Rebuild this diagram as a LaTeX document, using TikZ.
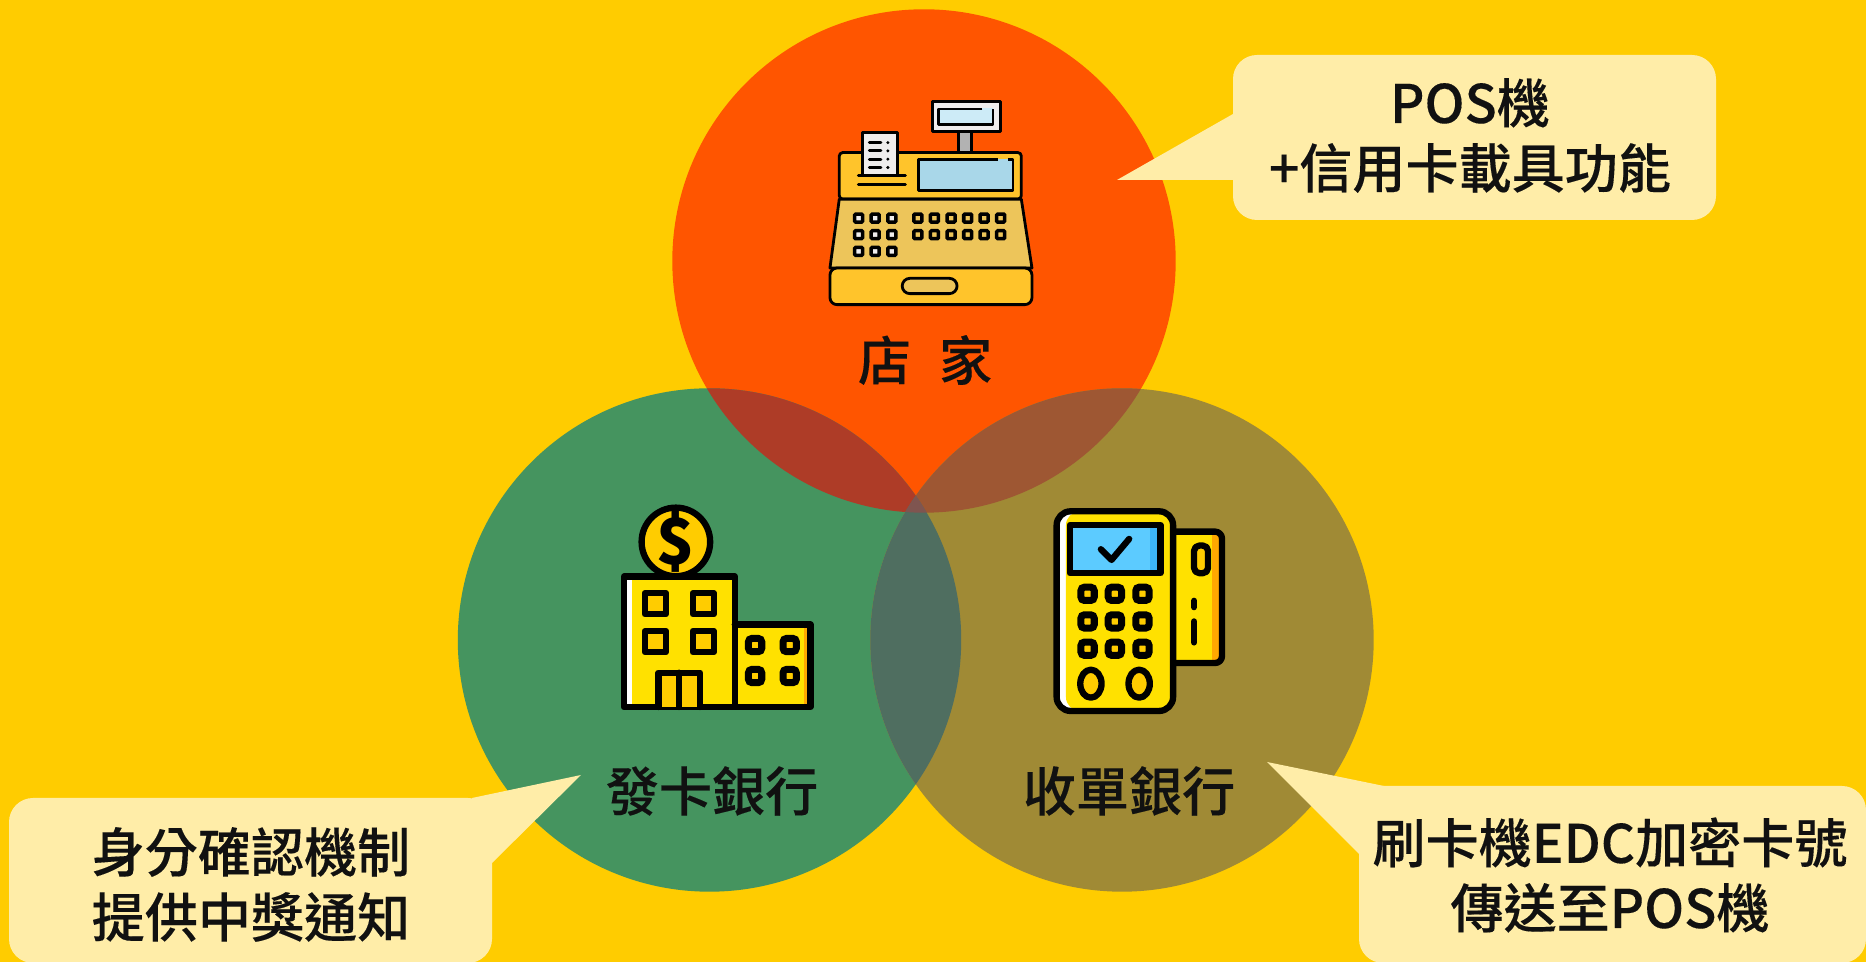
\documentclass[tikz,border=0pt]{standalone}
\usepackage{fontspec}
\setmainfont{Noto Sans CJK TC}
\newfontfamily\captionfont{Noto Sans CJK TC Medium}[FakeBold=0.2]
\definecolor{bgyellow}{HTML}{FFCC00}
\definecolor{redcircle}{HTML}{FF5500}
\definecolor{greencircle}{HTML}{45945F}
\definecolor{olivecircle}{HTML}{A08A35}
\definecolor{redgreen}{HTML}{AE3C27}
\definecolor{redolive}{HTML}{9E5733}
\definecolor{greenolive}{HTML}{4F6E60}
\definecolor{triplemix}{HTML}{7F5550}
\definecolor{calloutyellow}{HTML}{FFEDA8}
\definecolor{inktext}{HTML}{111111}
\definecolor{regbody}{HTML}{FFC42B}
\definecolor{regkeys}{HTML}{EDC55A}
\definecolor{regpaper}{HTML}{EFEDED}
\definecolor{regscreen}{HTML}{A9D7E9}
\definecolor{reglight}{HTML}{CDEBF7}
\definecolor{iconyellow}{HTML}{FFE100}
\definecolor{iconorange}{HTML}{FFA800}
\definecolor{edcscreen}{HTML}{5CCBFF}
\definecolor{edcshade}{HTML}{3DB5FA}
\tikzset{
    callout/.style={fill=calloutyellow},
    calloutbox/.style={fill=calloutyellow, rounded corners=0.24cm},
    caption/.style={text=inktext, align=center, inner sep=0pt, font=\fontsize{15.1pt}{18.5pt}\captionfont},
    regline/.style={draw=black, line width=0.8pt, line join=round},
    regkey/.style={draw=black, line width=1pt, rounded corners=0.3pt},
    iconline/.style={draw=black, line width=1.8pt, line join=round, line cap=round},
    iconkey/.style={draw=black, line width=2pt, fill=bgyellow, rounded corners=1pt},
}
\begin{document}
\begin{tikzpicture}[x=0.01cm, y=-0.01cm]
            \useasboundingbox (0,0) rectangle (1866,962);
            \fill[bgyellow] (0,0) rectangle (1866,962);

            % Circles
            \fill[redcircle] (924,261) circle (251.7);
            \fill[greencircle] (709.5,640) circle (251.7);
            \fill[olivecircle] (1122,640) circle (251.7);

            % Overlaps
            \begin{scope}
                \clip (924,261) circle (251.7);
                \fill[redgreen] (709.5,640) circle (251.7);
                \fill[redolive] (1122,640) circle (251.7);
            \end{scope}
            \begin{scope}
                \clip (709.5,640) circle (251.7);
                \fill[greenolive] (1122,640) circle (251.7);
            \end{scope}
            \begin{scope}
                \clip (709.5,640) circle (251.7);
                \clip (1122,640) circle (251.7);
                \fill[triplemix] (924,261) circle (251.7);
            \end{scope}

            % Callouts
            \fill[calloutbox] (1233,55) rectangle (1716,220);
            \fill[callout] (1233,114) -- (1117,180) -- (1233,180) -- cycle;
            \fill[calloutbox] (9,798) rectangle (492,963);
            \fill[callout] (472,798) -- (581,775) -- (492,863) -- cycle;
            \fill[calloutbox] (1359,786) rectangle (1866,963);
            \fill[callout] (1384,786) -- (1267,762) -- (1359,854) -- cycle;

            % Cash register
            \begin{scope}[shift={(800,80)}, x=0.00333cm, y=-0.00333cm]
                \filldraw[regline, fill=gray!60] (477,155) rectangle (515,218);
                \filldraw[regline, fill=regpaper] (397,64) rectangle (602,155);
                \fill[reglight] (417,85) rectangle (580,133);
                \draw[regline] (548,87) -- (417,87) -- (417,133) -- (580,133) -- (580,87);
                \filldraw[regline, fill=regbody, rounded corners=1pt] (118,218) rectangle (665,358);
                \filldraw[regline, fill=regpaper] (187,288) -- (187,158) -- (293,158) -- (293,288);
                \foreach \y in {188,213,238,263} {
                    \draw[regline, line cap=round] (208,\y) -- (243,\y);
                    \fill (264,\y) circle (5);
                }
                \draw[regline, line cap=round] (175,288) -- (317,288);
                \draw[regline, line cap=round] (175,313) -- (317,313);
                \fill[regscreen] (356,238) rectangle (640,333);
                \draw[regline] (595,238) -- (356,238) -- (356,333) -- (640,333) -- (640,238) -- (625,238);
                \filldraw[regline, fill=regkeys] (118,358) -- (665,358) -- (697,565) -- (90,565) -- cycle;
                \foreach \x in {176,226,276} {
                    \foreach \y in {415,465,515} {
                        \filldraw[regkey, fill=regpaper] (\x-12,\y-12) rectangle (\x+12,\y+12);
                    }
                }
                \foreach \x in {354,404,454,504,553,603} {
                    \foreach \y in {415,465} {
                        \filldraw[regkey, fill=regkeys] (\x-12,\y-12) rectangle (\x+12,\y+12);
                    }
                }
                \filldraw[regline, fill=regbody, rounded corners=2pt] (90,565) rectangle (697,675);
                \filldraw[regline, fill=regkeys, rounded corners=2.2pt] (307,596) rectangle (472,642);
            \end{scope}

            % Bank
            \begin{scope}[shift={(600,490)}, x=0.00333cm, y=-0.00333cm]
                \filldraw[iconline, fill=bgyellow] (228,156) circle (103);
                \fill[iconyellow] (72,260) rectangle (405,652);
                \fill[white] (82,260) rectangle (95,652);
                \fill[iconyellow] (405,404) rectangle (632,652);
                \fill[iconorange] (612,404) rectangle (622,652);
                \draw[iconline] (72,260) rectangle (405,652);
                \draw[iconline] (405,404) -- (632,404) -- (632,652) -- (405,652);
                \foreach \x in {135,279} {
                    \foreach \y in {310,424} {
                        \filldraw[iconline, fill=bgyellow] (\x,\y) rectangle (\x+63,\y+63);
                    }
                }
                \filldraw[iconline, fill=bgyellow] (176,652) -- (176,549) -- (301,549) -- (301,652);
                \draw[iconline] (238,549) -- (238,652);
                \foreach \x in {466,570} {
                    \foreach \y in {466,559} {
                        \filldraw[iconkey] (\x-20,\y-20) rectangle (\x+20,\y+20);
                    }
                }
                \node[inner sep=0pt, font=\fontsize{18pt}{18pt}\selectfont\bfseries] (dollarSign) at (228,156) {\$};
            \end{scope}

            % Card terminal
            \begin{scope}[shift={(1030,490)}, x=0.00333cm, y=-0.00333cm]
                \fill[iconorange, rounded corners=2pt] (400,125) rectangle (577,520);
                \fill[iconyellow] (400,125) rectangle (547,520);
                \draw[iconline, rounded corners=2pt] (400,125) rectangle (577,520);
                \filldraw[iconline, fill=bgyellow, rounded corners=1.5pt] (493,167) -- (535,167) -- (535,250) -- (493,250) -- cycle;
                \draw[iconline] (493,333) -- (493,352);
                \draw[iconline] (493,395) -- (493,458);
                \fill[white, rounded corners=4pt] (80,64) rectangle (430,664);
                \fill[iconyellow, rounded corners=4pt] (108,64) rectangle (430,664);
                \draw[iconline, rounded corners=4pt] (80,64) rectangle (430,664);
                \fill[edcscreen] (120,105) rectangle (392,250);
                \fill[edcshade] (360,105) rectangle (392,250);
                \draw[iconline] (120,105) rectangle (392,250);
                \draw[iconline] (213,178) -- (245,210) -- (298,147);
                \foreach \x in {173,255,338} {
                    \foreach \y in {312,395,477} {
                        \filldraw[iconkey] (\x-20,\y-20) rectangle (\x+20,\y+20);
                    }
                }
                \filldraw[iconline, fill=bgyellow] (183,582) ellipse (32 and 42);
                \filldraw[iconline, fill=bgyellow] (328,582) ellipse (32 and 42);
            \end{scope}

            % Labels
            \node[caption] (shopLabel) at (925,360) {店\hspace{0.28cm}家};
            \node[caption] (issuerLabel) at (712,791) {發卡銀行};
            \node[caption] (acquirerLabel) at (1129,791) {收單銀行};

            % Callout texts
            \node[caption] (posText) at (1470,135.5) {POS機\\+信用卡載具功能};
            \node[caption] (issuerText) at (251,884.5) {身分確認機制\\提供中獎通知};
            \node[caption] (acquirerText) at (1610,875) {刷卡機EDC加密卡號\\傳送至POS機};
        \end{tikzpicture}
\end{document}
